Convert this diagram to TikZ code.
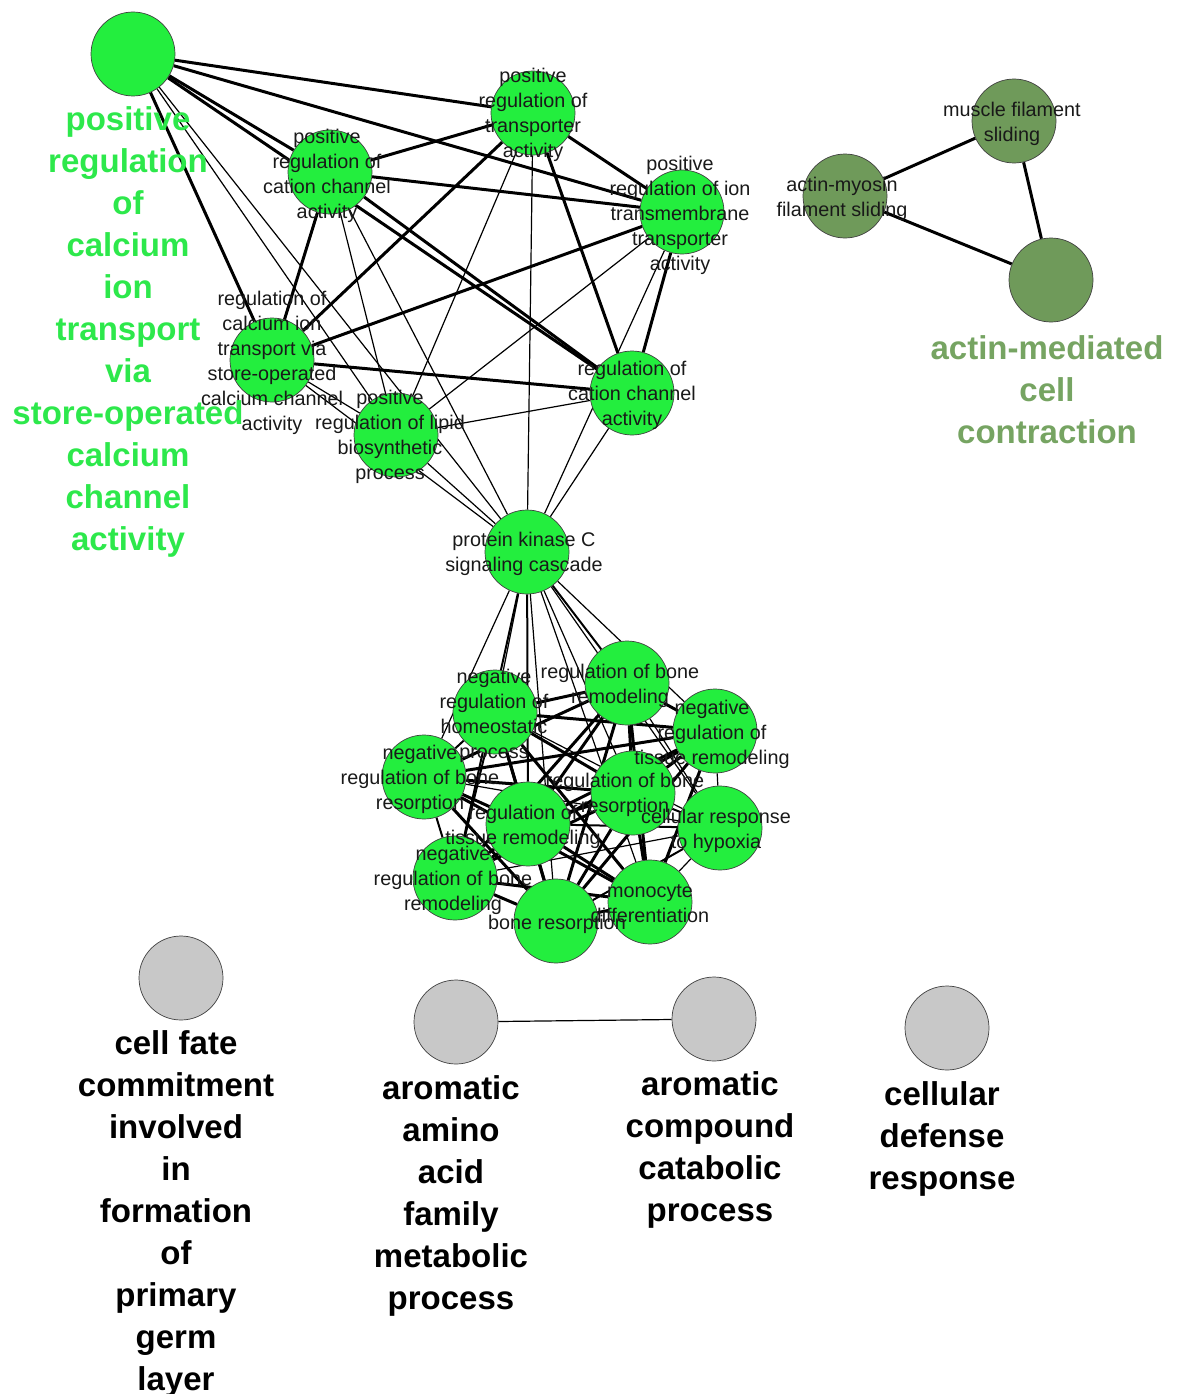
\documentclass[tikz,border=0pt]{standalone}
\usepackage{fontspec}
\setmainfont{Liberation Sans}
\definecolor{gogreen}{RGB}{35,238,62}
\definecolor{gotext}{RGB}{45,232,75}
\definecolor{olive}{RGB}{111,154,90}
\definecolor{olivetext}{RGB}{118,164,98}
\definecolor{gogray}{RGB}{200,200,200}
\pgfdeclarelayer{bg}
\pgfdeclarelayer{fg}
\pgfsetlayers{bg,main,fg}
\tikzset{
  circ/.style={circle, draw=black!75, line width=0.7pt, minimum size=84pt, inner sep=0pt},
  gnode/.style={circ, fill=gogreen},
  onode/.style={circ, fill=olive},
  ynode/.style={circ, fill=gogray},
  small/.style={inner sep=0pt, align=center, font=\fontsize{19.8}{25}\selectfont, text=black!90, yshift=-2pt},
  big/.style={inner sep=0pt, align=center, font=\fontsize{33}{42}\selectfont\bfseries, yshift=-3pt},
  ethick/.style={line width=3pt},
  emid/.style={line width=2pt},
  ethin/.style={line width=1.2pt},
}
\begin{document}
\begin{tikzpicture}[x=1pt,y=-1pt]
\useasboundingbox (0,0) rectangle (1178,1394);
% ---------- top cluster nodes ----------
\node[gnode] (A) at (133,54) {};
\node[gnode] (B) at (533,113) {};
\node[gnode] (C) at (330,172) {};
\node[gnode] (D) at (682,212) {};
\node[gnode] (E) at (272,360) {};
\node[gnode] (F) at (632,393) {};
\node[gnode] (G) at (396,435) {};
\node[gnode] (H) at (527,552) {};
% ---------- right cluster ----------
\node[onode] (M1) at (1014,121) {};
\node[onode] (M2) at (845,196) {};
\node[onode] (M3) at (1051,280) {};
% ---------- bottom cluster ----------
\node[gnode] (N1) at (495,712) {};
\node[gnode] (N2) at (627,683) {};
\node[gnode] (N3) at (715,731) {};
\node[gnode] (N4) at (424,777) {};
\node[gnode] (N5) at (633,793) {};
\node[gnode] (N6) at (528,824) {};
\node[gnode] (N7) at (720,828) {};
\node[gnode] (N8) at (455,878) {};
\node[gnode] (N9) at (650,902) {};
\node[gnode] (N10) at (556,921) {};
% ---------- gray nodes ----------
\node[ynode] (Y1) at (181,978) {};
\node[ynode] (Y2) at (456,1022) {};
\node[ynode] (Y3) at (714,1019) {};
\node[ynode] (Y4) at (947,1028) {};

\begin{pgfonlayer}{bg}
% top cluster edges
\draw[ethick] (A) -- (B);
\draw[ethick] (A) -- (D);
\draw[ethick] (A) -- (C);
\draw[ethick] (A) -- (F);
\draw[ethick] (A) -- (E);
\draw[ethin] (A) -- (G);
\draw[ethin] (A) -- (H);
\draw[ethick] (B) -- (C);
\draw[ethick] (B) -- (D);
\draw[ethick] (B) -- (E);
\draw[ethick] (B) -- (F);
\draw[ethin] (B) -- (G);
\draw[ethin] (B) -- (H);
\draw[ethick] (C) -- (D);
\draw[ethick] (C) -- (E);
\draw[ethick] (C) -- (F);
\draw[ethin] (C) -- (G);
\draw[ethin] (C) -- (H);
\draw[ethick] (D) -- (E);
\draw[ethick] (D) -- (F);
\draw[ethin] (D) -- (G);
\draw[ethin] (D) -- (H);
\draw[ethick] (E) -- (F);
\draw[ethin] (E) -- (G);
\draw[ethin] (E) -- (H);
\draw[ethin] (F) -- (G);
\draw[ethin] (F) -- (H);
\draw[ethin] (G) -- (H);
% H to bottom cluster
\draw[ethin] (H) -- (N1);
\draw[emid] (H) -- (N2);
\draw[ethin] (H) -- (N3);
\draw[ethin] (H) -- (N4);
\draw[ethin] (H) -- (N5);
\draw[emid] (H) -- (N6);
\draw[ethin] (H) -- (N7);
\draw[emid] (H) -- (N8);
\draw[ethin] (H) -- (N9);
\draw[ethin] (H) -- (N10);
% bottom cluster edges
\draw[ethick] (N1) -- (N2);
\draw[ethick] (N1) -- (N3);
\draw[emid] (N1) -- (N4);
\draw[ethick] (N1) -- (N5);
\draw[ethick] (N1) -- (N6);
\draw[ethin] (N1) -- (N7);
\draw[emid] (N1) -- (N8);
\draw[ethick] (N1) -- (N9);
\draw[ethick] (N1) -- (N10);
\draw[ethick] (N2) -- (N3);
\draw[ethick] (N2) -- (N4);
\draw[ethick] (N2) -- (N5);
\draw[ethick] (N2) -- (N6);
\draw[ethin] (N2) -- (N7);
\draw[ethick] (N2) -- (N8);
\draw[ethick] (N2) -- (N9);
\draw[ethick] (N2) -- (N10);
\draw[ethick] (N3) -- (N4);
\draw[ethick] (N3) -- (N5);
\draw[ethick] (N3) -- (N6);
\draw[ethin] (N3) -- (N7);
\draw[ethick] (N3) -- (N8);
\draw[ethick] (N3) -- (N9);
\draw[ethick] (N3) -- (N10);
\draw[ethick] (N4) -- (N5);
\draw[ethick] (N4) -- (N6);
\draw[ethin] (N4) -- (N7);
\draw[emid] (N4) -- (N8);
\draw[ethick] (N4) -- (N9);
\draw[ethick] (N4) -- (N10);
\draw[ethick] (N5) -- (N6);
\draw[emid] (N5) -- (N7);
\draw[ethick] (N5) -- (N8);
\draw[ethick] (N5) -- (N9);
\draw[ethick] (N5) -- (N10);
\draw[emid] (N6) -- (N7);
\draw[ethick] (N6) -- (N8);
\draw[ethick] (N6) -- (N9);
\draw[ethick] (N6) -- (N10);
\draw[ethin] (N7) -- (N8);
\draw[ethin] (N7) -- (N9);
\draw[emid] (N7) -- (N10);
\draw[ethick] (N8) -- (N9);
\draw[ethick] (N8) -- (N10);
\draw[ethick] (N9) -- (N10);
% right cluster
\draw[ethick] (M1) -- (M2);
\draw[ethick] (M1) -- (M3);
\draw[ethick] (M2) -- (M3);
% gray
\draw[ethin] (Y2) -- (Y3);
\end{pgfonlayer}

\begin{pgfonlayer}{fg}
\node[small] (lB) at (533,113) {positive\\regulation of\\transporter\\activity};
\node[small] (lC) at (327,174) {positive\\regulation of\\cation channel\\activity};
\node[small] (lD) at (680,213) {positive\\regulation of ion\\transmembrane\\transporter\\activity};
\node[small] (lE) at (272,361) {regulation of\\calcium ion\\transport via\\store-operated\\calcium channel\\activity};
\node[small] (lF) at (632,393) {regulation of\\cation channel\\activity};
\node[small] (lG) at (390,435) {positive\\regulation of lipid\\biosynthetic\\process};
\node[small] (lH) at (524,552) {protein kinase C\\signaling cascade};
\node[small] (lM1) at (1012,122) {muscle filament\\sliding};
\node[small] (lM2) at (842,197) {actin-myosin\\filament sliding};
\node[small] (lN1) at (494,714) {negative\\regulation of\\homeostatic\\process};
\node[small] (lN2) at (620,684) {regulation of bone\\remodeling};
\node[small] (lN3) at (712,732) {negative\\regulation of\\tissue remodeling};
\node[small] (lN4) at (420,777) {negative\\regulation of bone\\resorption};
\node[small] (lN5) at (625,793) {regulation of bone\\resorption};
\node[small] (lN6) at (523,825) {regulation of\\tissue remodeling};
\node[small] (lN7) at (716,829) {cellular response\\to hypoxia};
\node[small] (lN8) at (453,878) {negative\\regulation of bone\\remodeling};
\node[small] (lN9) at (650,902) {monocyte\\differentiation};
\node[small] (lN10) at (557,922) {bone resorption};
\node[big, text=gotext] (lA) at (128,328.5) {positive\\regulation\\of\\calcium\\ion\\transport\\via\\store-operated\\calcium\\channel\\activity};
\node[big, text=olivetext] (lM3) at (1047,387) {actin-mediated\\cell\\contraction};
\node[big, text=black] (lY1) at (176,1210.5) {cell fate\\commitment\\involved\\in\\formation\\of\\primary\\germ\\layer};
\node[big, text=black] (lY2) at (451,1192.5) {aromatic\\amino\\acid\\family\\metabolic\\process};
\node[big, text=black] (lY3) at (710,1147) {aromatic\\compound\\catabolic\\process};
\node[big, text=black] (lY4) at (942,1136) {cellular\\defense\\response};
\end{pgfonlayer}
\end{tikzpicture}
\end{document}
